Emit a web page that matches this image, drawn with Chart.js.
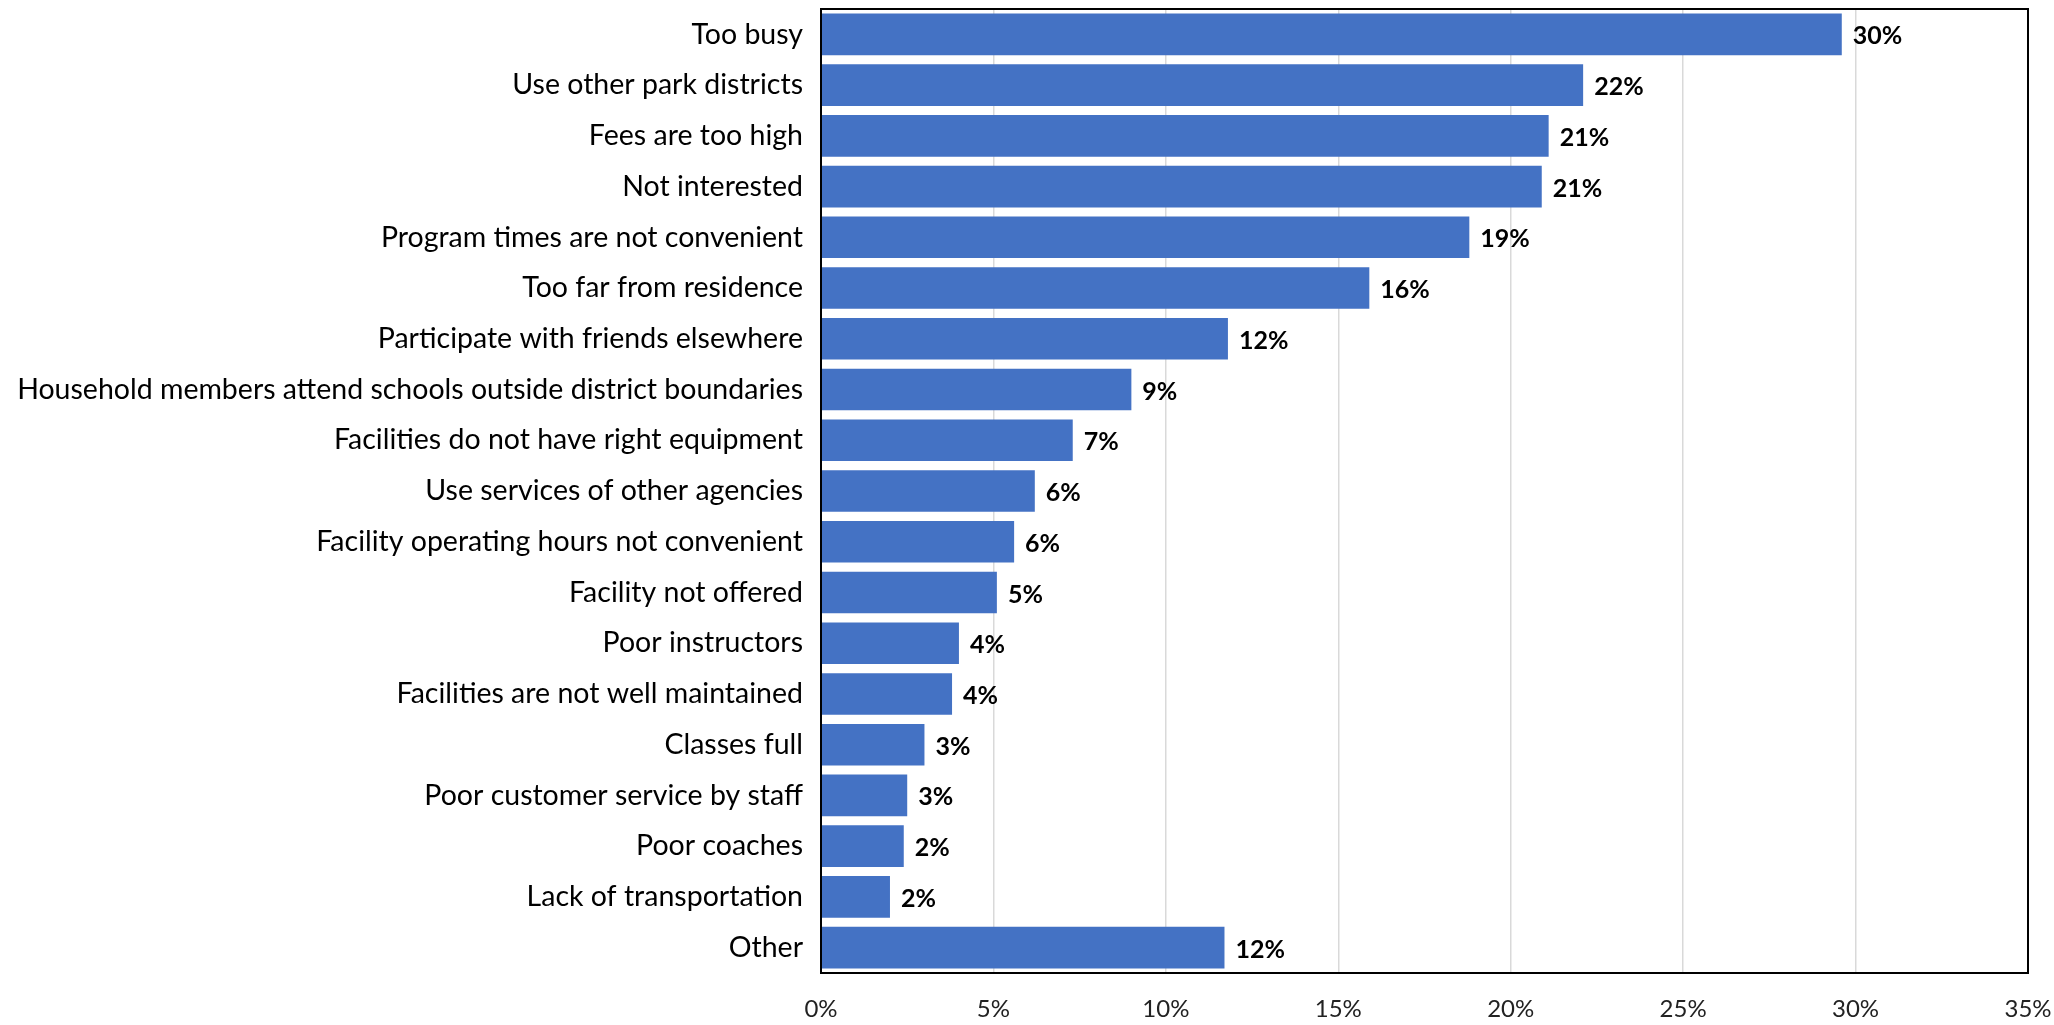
<!DOCTYPE html>
<html>
<head>
<meta charset="utf-8">
<script src="https://cdn.jsdelivr.net/npm/chart.js@4.4.0/dist/chart.umd.min.js"></script>
<style>
  html, body { margin: 0; padding: 0; background: #fff; }
  #wrap { width: 2054px; height: 1025px; }
</style>
</head>
<body>
<div id="wrap"><canvas id="chart" width="2054" height="1025"></canvas></div>
<script>
const categories = [
  "Too busy",
  "Use other park districts",
  "Fees are too high",
  "Not interested",
  "Program times are not convenient",
  "Too far from residence",
  "Participate with friends elsewhere",
  "Household members attend schools outside district boundaries",
  "Facilities do not have right equipment",
  "Use services of other agencies",
  "Facility operating hours not convenient",
  "Facility not offered",
  "Poor instructors",
  "Facilities are not well maintained",
  "Classes full",
  "Poor customer service by staff",
  "Poor coaches",
  "Lack of transportation",
  "Other"
];
const values = [29.6, 22.1, 21.1, 20.9, 18.8, 15.9, 11.8, 9.0, 7.3, 6.2, 5.6, 5.1, 4.0, 3.8, 3.0, 2.5, 2.4, 2.0, 11.7];
const xTicks = [0, 5, 10, 15, 20, 25, 30, 35];

const FONT = "Lato";

// bold value labels to the right of each bar
const valueLabels = {
  id: 'valueLabels',
  afterDatasetsDraw(chart) {
    const ctx = chart.ctx;
    const meta = chart.getDatasetMeta(0);
    ctx.save();
    ctx.font = "bold 25px " + FONT;
    ctx.fillStyle = "#000";
    ctx.textAlign = "left";
    ctx.textBaseline = "middle";
    meta.data.forEach((bar, i) => {
      ctx.fillText(Math.round(values[i]) + "%", bar.x + 11, bar.y + 2);
    });
    ctx.restore();
  }
};

// black frame around the plot area
const frame = {
  id: 'frame',
  afterDraw(chart) {
    const a = chart.chartArea;
    const ctx = chart.ctx;
    ctx.save();
    ctx.strokeStyle = "#000";
    ctx.lineWidth = 2;
    ctx.strokeRect(a.left, a.top, a.right - a.left, a.bottom - a.top);
    ctx.restore();
  }
};

new Chart(document.getElementById('chart'), {
  type: 'bar',
  data: {
    labels: categories,
    datasets: [{
      data: values,
      backgroundColor: "#4472C4",
      borderWidth: 0,
      barPercentage: 0.82,
      categoryPercentage: 1.0
    }]
  },
  options: {
    indexAxis: 'y',
    responsive: false,
    animation: false,
    layout: { padding: { top: 9, right: 26, bottom: 0, left: 0 } },
    plugins: { legend: { display: false }, tooltip: { enabled: false } },
    scales: {
      x: {
        min: 0,
        max: 35,
        afterBuildTicks(scale) { scale.ticks = xTicks.map(v => ({ value: v })); },
        afterFit(scale) { scale.height = 52; scale.paddingRight = 0; scale.paddingLeft = 0; },
        grid: { color: "#d9d9d9", lineWidth: 1.5, drawTicks: false },
        border: { display: false },
        ticks: {
          padding: 22,
          color: "#222",
          font: { family: FONT, size: 24 },
          callback: v => v + "%"
        }
      },
      y: {
        afterFit(scale) { scale.width = 821; scale.paddingTop = 0; scale.paddingBottom = 0; },
        grid: { display: false },
        border: { display: false },
        ticks: {
          padding: 10,
          color: "#000",
          font: { family: FONT, size: 28.5 }
        }
      }
    }
  },
  plugins: [valueLabels, frame]
});
</script>
</body>
</html>
